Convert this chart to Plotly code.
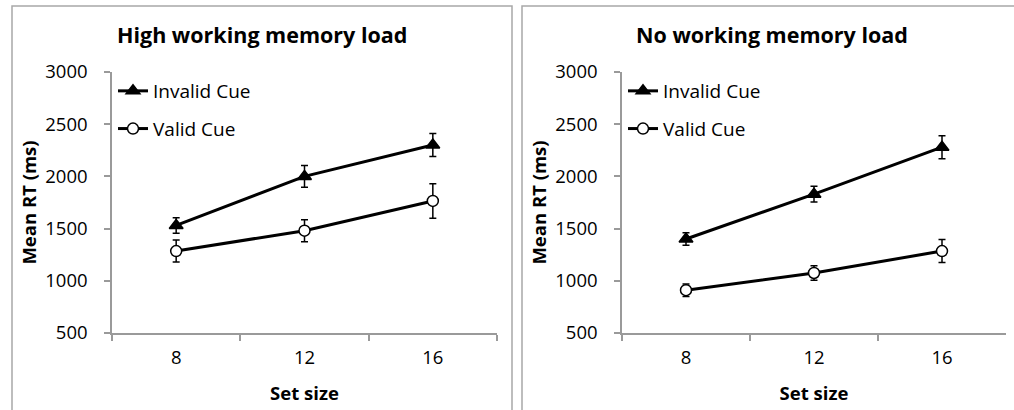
import plotly.graph_objects as go
from plotly.subplots import make_subplots

# Set sizes (categories on the x axis)
set_sizes = ["8", "12", "16"]

# High working memory load: mean RT and error (ms)
high_invalid = [1530, 2000, 2300]
high_invalid_err = [75, 105, 110]
high_valid = [1285, 1480, 1765]
high_valid_err = [105, 105, 165]

# No working memory load: mean RT and error (ms)
none_invalid = [1400, 1830, 2280]
none_invalid_err = [60, 75, 110]
none_valid = [910, 1075, 1285]
none_valid_err = [60, 70, 110]

y_ticks = [500, 1000, 1500, 2000, 2500, 3000]
panel_titles = ["High working memory load", "No working memory load"]

FONT = "Open Sans, Lato, sans-serif"
W, H = 1014, 410

fig = make_subplots(rows=1, cols=2)


def add_series(col, y, err, name, symbol, fill, legend):
    fig.add_trace(
        go.Scatter(
            x=set_sizes, y=y, name=name, mode="lines+markers",
            line=dict(color="black", width=3),
            marker=dict(symbol=symbol, size=12 if symbol == "triangle-up" else 11,
                        color=fill, line=dict(color="black", width=1.5)),
            error_y=dict(type="data", array=err, visible=True,
                         color="black", thickness=1.5, width=3.5),
            legend=legend, legendgroup=name + legend,
        ),
        row=1, col=col,
    )


add_series(1, high_invalid, high_invalid_err, "Invalid Cue", "triangle-up", "black", "legend")
add_series(1, high_valid, high_valid_err, "Valid Cue", "circle", "white", "legend")
add_series(2, none_invalid, none_invalid_err, "Invalid Cue", "triangle-up", "black", "legend2")
add_series(2, none_valid, none_valid_err, "Valid Cue", "circle", "white", "legend2")

axis_col = "#9a9a9a"
x_domains = [(112 / W, 497 / W), (622 / W, 1006 / W)]
y_domain = ((H - 333) / H, (H - 72) / H)

for i, dom in enumerate(x_domains, start=1):
    fig.update_xaxes(
        type="category", domain=dom, tickson="boundaries", ticks="outside",
        ticklen=6, tickcolor=axis_col, tickwidth=1.5, automargin=False,
        showline=True, linecolor=axis_col, linewidth=1.5, showgrid=False,
        zeroline=False, range=[-0.5, 2.5],
        tickfont=dict(family=FONT, size=18.5, color="black"),
        ticklabelstandoff=7,
        title=dict(text="<b>Set size</b>", font=dict(family=FONT, size=18.5, color="black"),
                   standoff=19),
        row=1, col=i,
    )
    fig.update_yaxes(
        domain=y_domain, range=[500, 3000], tickvals=y_ticks, automargin=False,
        ticks="outside", ticklen=6, tickcolor=axis_col, tickwidth=1.5,
        showline=True, linecolor=axis_col, linewidth=1.5, showgrid=False,
        zeroline=False,
        tickfont=dict(family=FONT, size=18.5, color="black"),
        ticklabelstandoff=13,
        title=dict(text="<b>Mean RT (ms)</b>", font=dict(family=FONT, size=18.5, color="black"),
                   standoff=4),
        row=1, col=i,
    )

legend_style = dict(
    font=dict(family=FONT, size=19, color="black"),
    bgcolor="rgba(0,0,0,0)", borderwidth=0,
    xanchor="left", yanchor="top", y=(H - 72) / H,
    tracegroupgap=10, traceorder="grouped",
)
fig.update_layout(
    legend=dict(x=113 / W, **legend_style),
    legend2=dict(x=623 / W, **legend_style),
)

# Panel titles
for dom, title in zip([(12, 512), (522, 1022)], panel_titles):
    fig.add_annotation(
        text="<b>%s</b>" % title, xref="paper", yref="paper",
        x=(dom[0] + dom[1]) / 2 / W, y=(H - 35) / H,
        xanchor="center", yanchor="middle", showarrow=False,
        font=dict(family=FONT, size=21.5, color="black"),
    )

# Panel frames
for x0, x1 in [(12, 512), (522, 1030)]:
    fig.add_shape(
        type="rect", xref="paper", yref="paper",
        x0=x0 / W, x1=x1 / W, y0=-20 / H, y1=(H - 6) / H,
        line=dict(color="#a8a8a8", width=1.5), fillcolor="rgba(0,0,0,0)",
        layer="below",
    )

fig.update_layout(
    width=W, height=H, margin=dict(l=0, r=0, t=0, b=0),
    paper_bgcolor="white", plot_bgcolor="white",
    showlegend=True,
)

fig.write_html("out.html")
